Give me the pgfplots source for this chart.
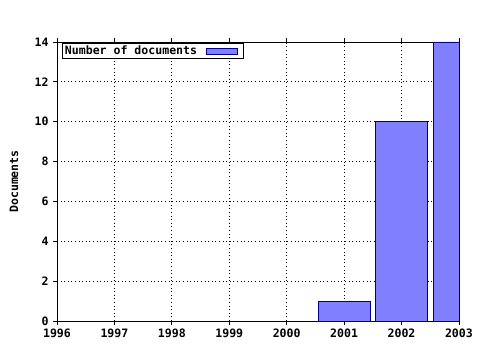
\documentclass[border=0pt]{standalone}
\usepackage{fontspec}
\setmainfont{DejaVu Sans Mono}
\usepackage{pgfplots}
\pgfplotsset{compat=1.18}
\definecolor{barfill}{RGB}{128,128,255}
\definecolor{baredge}{RGB}{0,0,140}
\newcommand{\chartfont}{\fontsize{11.6}{13}\selectfont\bfseries}
\begin{document}
\begin{tikzpicture}[font=\chartfont]
\useasboundingbox (-57bp,-29bp) rectangle (423bp,321bp);
\begin{axis}[
  at={(0,0)}, anchor=south west,
  scale only axis, width=402bp, height=279bp,
  xmin=1996, xmax=2003, ymin=0, ymax=14,
  xtick={1996,1997,...,2003},
  ytick={0,2,...,14},
  minor x tick num=3,
  xmajorgrids, ymajorgrids,
  grid style={black, line width=0.9pt, dash pattern=on 1bp off 2.6bp},
  axis line style={black, line width=0.9pt},
  tick style={black, line width=0.8pt},
  major tick length=4bp, minor tick length=2.5bp,
  tick align=outside,
  xtick pos=both, ytick pos=left,
  /pgf/number format/assume math mode=true,
  xticklabel style={/pgf/number format/1000 sep=, font=\chartfont},
  yticklabel style={font=\chartfont, xshift=-1bp},
  ylabel={Documents},
  ylabel style={at={(axis description cs:-0.107,0.5)}, anchor=center, font=\chartfont},
  legend plot pos=right,
  legend style={at={(axis description cs:0.0124,0.996)}, anchor=north west,
    draw=black, line width=0.9pt, inner sep=0.5bp, font=\chartfont},
  legend image code/.code={\draw[fill=barfill, draw=baredge, line width=0.9pt] (7bp,-3bp) rectangle (38bp,3bp);
     \path[draw=none, fill=none] (0bp,0bp) -- (44bp,0bp);},
]
\addplot[ybar, bar width=0.9, fill=barfill, draw=baredge, line width=0.9pt]
  coordinates {(2001,1) (2002,10) (2003,14)};
\addlegendentry{Number of documents}
\end{axis}
\end{tikzpicture}
\end{document}
